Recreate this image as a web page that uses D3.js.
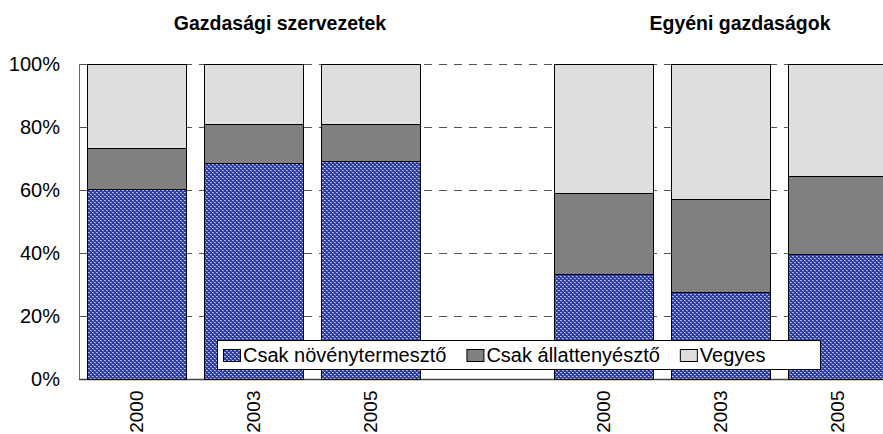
<!DOCTYPE html>
<html><head><meta charset="utf-8">
<script src="https://cdn.jsdelivr.net/npm/d3@7"></script>
<style>body{margin:0;background:#fff;} svg{display:block;font-family:Arial,"Liberation Sans",sans-serif;}</style>
</head><body>
<svg id="c" width="883" height="434"></svg>
<script>
// ---- data ----
const slots = ["g2000","g2003","g2005","gap","e2000","e2003","e2005"];
const slotLabels = ["2000","2003","2005","","2000","2003","2005"];
const novenytermeszto = [60.2, 68.6, 69.2, null, 33.3, 27.6, 39.7];
const allattenyeszto  = [13.0, 12.5, 11.6, null, 25.7, 29.5, 24.7];
const vegyes          = [26.8, 18.9, 19.2, null, 41.0, 42.9, 35.6];
const seriesNames = ["Csak növénytermesztő","Csak állattenyésztő","Vegyes"];
const groupTitles = ["Gazdasági szervezetek","Egyéni gazdaságok"];
const yTicks = [0,20,40,60,80,100];

const svg = d3.select("#c");
const W = 883, H = 434;
const plotLeft = 78, plotTop = 64, plotBottom = 379;

const defs = svg.append("defs");
const pat = defs.append("pattern").attr("id","blueP").attr("patternUnits","userSpaceOnUse")
  .attr("width",4).attr("height",4);
pat.append("rect").attr("width",4).attr("height",4).attr("fill","#2c3ca4");
[[0,0,"#c8d0f4"],[1,0,"#8090da"],[2,2,"#c8d0f4"],[3,2,"#8090da"],[1,1,"#4a5ac4"],[3,3,"#4a5ac4"]]
  .forEach(([px,py,c])=>pat.append("rect").attr("x",px).attr("y",py).attr("width",1).attr("height",1).attr("fill",c));

const colors = ["url(#blueP)","#808080","#dedede"];

const x = d3.scaleBand().domain(slots).range([plotLeft, plotLeft + 7*116.8]).paddingInner(0.154).paddingOuter(0.077);
const y = d3.scaleLinear().domain([0,100]).range([plotBottom, plotTop]);

// gridlines
svg.append("g").selectAll("line").data(yTicks.filter(t=>t>0)).join("line")
  .attr("x1", plotLeft+1).attr("x2", W).attr("y1", d=>y(d)+0.5).attr("y2", d=>y(d)+0.5)
  .attr("stroke","#555").attr("stroke-width",1).attr("stroke-dasharray","8,7");

// axis lines
svg.append("line").attr("x1",plotLeft+1.5).attr("x2",plotLeft+1.5).attr("y1",plotTop).attr("y2",plotBottom+1)
  .attr("stroke","#666").attr("stroke-width",1);
svg.append("line").attr("x1",plotLeft+1).attr("x2",W).attr("y1",plotBottom+0.5).attr("y2",plotBottom+0.5)
  .attr("stroke","#444").attr("stroke-width",1.5);

// stacked bars
const stackData = slots.map((s,i)=>({slot:s, v:[novenytermeszto[i], allattenyeszto[i], vegyes[i]]}))
  .filter(d=>d.v[0]!==null);
const barG = svg.append("g");
stackData.forEach(d=>{
  let acc = 0;
  d.v.forEach((val,k)=>{
    const y0 = acc, y1 = (k===2) ? 100 : acc+val;
    barG.append("rect")
      .attr("x", Math.round(x(d.slot))+0.5).attr("width", Math.round(x.bandwidth()))
      .attr("y", Math.round(y(y1))+0.5).attr("height", Math.round(y(y0))-Math.round(y(y1)))
      .attr("fill", colors[k]).attr("stroke","#000").attr("stroke-width",1);
    acc = y1;
  });
});

// y labels
svg.append("g").selectAll("text").data(yTicks).join("text")
  .attr("x", 60).attr("y", d=>y(d)).attr("dy","0.36em").attr("text-anchor","end")
  .attr("font-size",20).attr("fill","#000").text(d=>d+"%");

// x labels
svg.append("g").selectAll("text").data(slots.map((s,i)=>({s, l:slotLabels[i]})).filter(d=>d.l)).join("text")
  .attr("transform", d=>`translate(${x(d.s)+x.bandwidth()/2},390.5) rotate(-90)`)
  .attr("dy","0.36em").attr("text-anchor","end").attr("font-size",19).attr("fill","#000")
  .text(d=>d.l);

// group titles
const titleX = [280, 740];
svg.append("g").selectAll("text").data(groupTitles).join("text")
  .attr("x",(d,i)=>titleX[i]).attr("y",30).attr("text-anchor","middle")
  .attr("font-size",19.5).attr("font-weight","bold").attr("fill","#000").text(d=>d);

// legend
const lg = svg.append("g");
lg.append("rect").attr("x",217.5).attr("y",340.5).attr("width",603).attr("height",29)
  .attr("fill","#fff").attr("stroke","#000").attr("stroke-width",1);
let lx = 223;
seriesNames.forEach((n,k)=>{
  lg.append("rect").attr("x",lx+0.5).attr("y",349.5).attr("width",17).attr("height",12)
    .attr("fill",colors[k]).attr("stroke","#000").attr("stroke-width",1);
  const t = lg.append("text").attr("x",lx+20).attr("y",362).attr("font-size",20).attr("fill","#000").text(n);
  lx = lx + 20 + t.node().getComputedTextLength() + 20;
});
</script>
</body></html>
